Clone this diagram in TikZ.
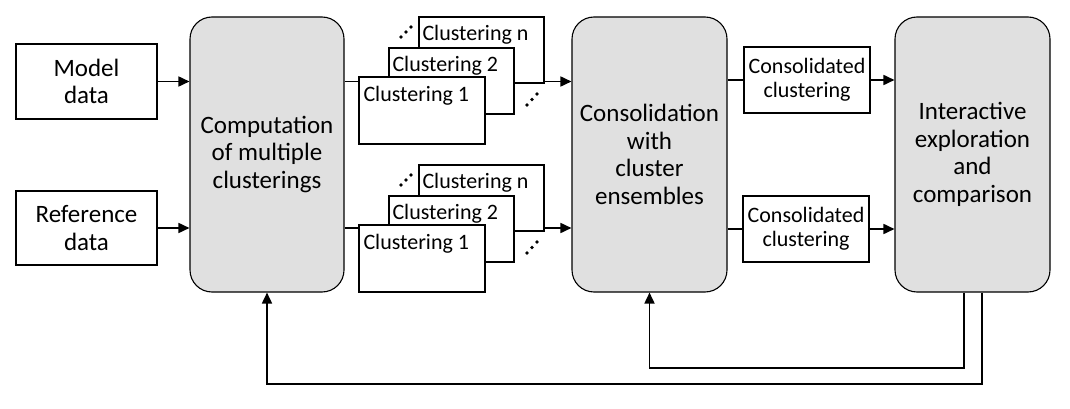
\documentclass[tikz,border=0pt]{standalone}
\usepackage{fontspec}
\setmainfont{Carlito}
\usetikzlibrary{arrows.meta,calc}
\definecolor{boxgray}{RGB}{224,224,224}
\begin{document}
\begin{tikzpicture}[x=1pt,y=-1pt,
  bigfont/.style={font=\fontsize{25}{27.5}\selectfont},
  smallfont/.style={font=\fontsize{22}{24}\selectfont},
  databox/.style={draw,line width=1.4pt,fill=white,inner sep=0pt,align=center,bigfont},
  procbox/.style={draw,line width=1.1pt,fill=boxgray,rounded corners=22pt,inner sep=0pt,align=center,bigfont,minimum width=154pt,minimum height=275pt},
  clbox/.style={draw,line width=1.4pt,fill=white,inner sep=0pt},
  cltext/.style={smallfont,anchor=north west,inner sep=0pt},
  ccbox/.style={draw,line width=1.4pt,fill=white,inner sep=0pt,align=center,smallfont,minimum width=126pt,minimum height=66pt},
  arr/.style={line width=1.7pt,-{Triangle[length=11pt,width=10pt]}},
  ln/.style={line width=1.7pt},
  dotfill/.style={fill=black}
]
\useasboundingbox (0,0) rectangle (1070,409);

% data boxes
\node[databox,minimum width=141pt,minimum height=75pt] (model) at (86.5,81.5) {Model\\data};
\node[databox,minimum width=141pt,minimum height=74pt] (ref) at (86.5,228) {Reference\\data};

% process boxes
\node[procbox] (comp) at (267,154.5) {Computation\\of multiple\\clusterings};
\node[procbox,minimum width=155pt] (cons) at (649.5,154.5) {Consolidation\\with\\cluster\\ensembles};
\node[procbox,minimum width=155pt] (inter) at (972.5,154.5) {Interactive\\exploration\\and\\comparison};

% clustering stacks (top)
\node[clbox,minimum width=125pt,minimum height=66pt] (cna) at (481.5,50) {};
\node[cltext] (tna) at ([xshift=4pt,yshift=-9pt]cna.north west) {Clustering n};
\node[clbox,minimum width=125pt,minimum height=66pt] (c2a) at (451.5,81) {};
\node[cltext] (t2a) at ([xshift=4pt,yshift=-9pt]c2a.north west) {Clustering 2};
\node[clbox,minimum width=126pt,minimum height=67pt] (c1a) at (422,110.5) {};
\node[cltext] (t1a) at ([xshift=5pt,yshift=-10pt]c1a.north west) {Clustering 1};

% clustering stacks (bottom)
\node[clbox,minimum width=125pt,minimum height=66pt] (cnb) at (481.5,198) {};
\node[cltext] (tnb) at ([xshift=4pt,yshift=-9pt]cnb.north west) {Clustering n};
\node[clbox,minimum width=125pt,minimum height=66pt] (c2b) at (451.5,229) {};
\node[cltext] (t2b) at ([xshift=4pt,yshift=-9pt]c2b.north west) {Clustering 2};
\node[clbox,minimum width=126pt,minimum height=67pt] (c1b) at (422,258.5) {};
\node[cltext] (t1b) at ([xshift=5pt,yshift=-10pt]c1b.north west) {Clustering 1};

% dots
\foreach \dx/\dy in {401/37,406/32,411/27,527/105,532/99.5,537/94}{
  \fill[dotfill] (\dx,\dy) circle (1.8pt);
  \fill[dotfill] (\dx,\dy+148) circle (1.8pt);
}

% consolidated clustering boxes
\node[ccbox] (cc1) at (807,80) {Consolidated\\clustering};
\node[ccbox] (cc2) at (806,229) {Consolidated\\clustering};

% connectors
\draw[arr] (model.east) -- (comp.west |- model.east);
\draw[arr] (ref.east) -- (comp.west |- ref.east);
\draw[ln] (comp.east |- model.east) -- (c1a.west |- model.east);
\draw[ln] (comp.east |- ref.east) -- (c1b.west |- ref.east);
\draw[arr] (cna.east |- model.east) -- (cons.west |- model.east);
\draw[arr] (cnb.east |- ref.east) -- (cons.west |- ref.east);
\draw[ln] (cons.east |- cc1.west) -- (cc1.west);
\draw[ln] (cons.east |- cc2.west) -- (cc2.west);
\draw[arr] (cc1.east) -- (inter.west |- cc1.east);
\draw[arr] (cc2.east) -- (inter.west |- cc2.east);

% feedback loops
\coordinate (fb1) at (964,368);
\coordinate (fb2) at (982,384);
\draw[arr] ([xshift=-8.5pt]inter.south) -- ([xshift=-8.5pt]inter.south |- fb1) -- (cons.south |- fb1) -- (cons.south);
\draw[arr] ([xshift=9.5pt]inter.south) -- ([xshift=9.5pt]inter.south |- fb2) -- (comp.south |- fb2) -- (comp.south);
\end{tikzpicture}
\end{document}
